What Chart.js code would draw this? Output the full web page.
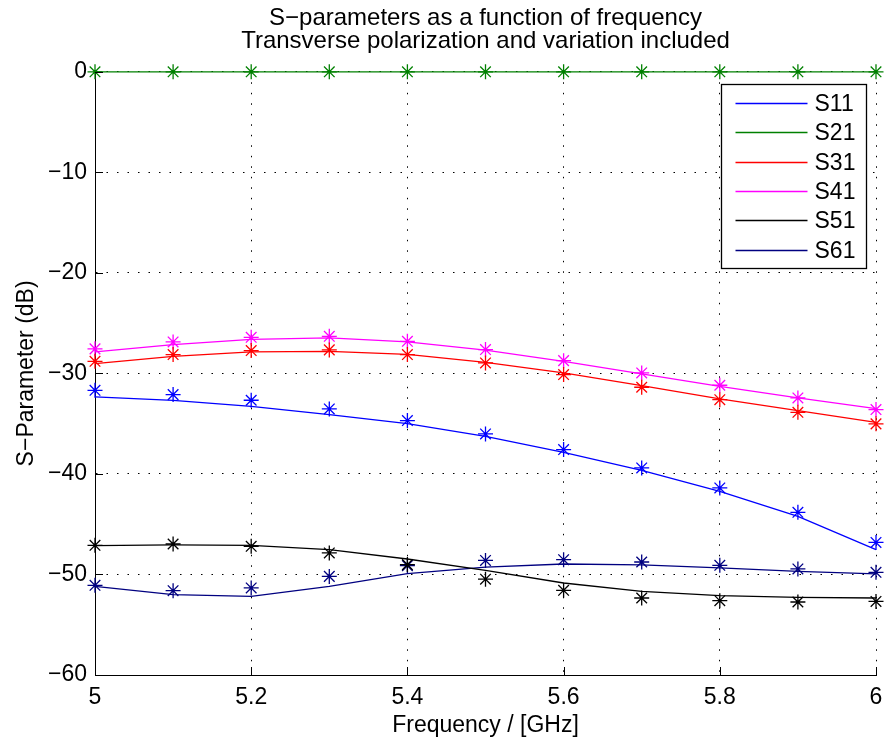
<!DOCTYPE html>
<html>
<head>
<meta charset="utf-8">
<title>S-parameters as a function of frequency</title>
<script src="https://cdn.jsdelivr.net/npm/chart.js@4.4.1/dist/chart.umd.min.js"></script>
<style>
    html, body { margin: 0; padding: 0; background: #fff; }
    #wrap { position: relative; width: 885px; height: 742px; }
</style>
</head>
<body>
<div id="wrap"><canvas id="chart1"></canvas></div>
<script>
const freq = [5.0, 5.1, 5.2, 5.3, 5.4, 5.5, 5.6, 5.7, 5.8, 5.9, 6.0];
const xTicks = [5, 5.2, 5.4, 5.6, 5.8, 6];
const yTicks = [-60, -50, -40, -30, -20, -10, 0];
const names = ['S11', 'S21', 'S31', 'S41', 'S51', 'S61'];

// fitted curves (solid lines)
const s11Line = [-32.34, -32.68, -33.27, -34.10, -35.00, -36.26, -37.85, -39.64, -41.73, -44.22, -47.53];
const s21Line = [0, 0, 0, 0, 0, 0, 0, 0, 0, 0, 0];
const s31Line = [-29.02, -28.30, -27.86, -27.80, -28.10, -28.90, -29.95, -31.21, -32.54, -33.70, -34.87];
const s41Line = [-27.86, -27.13, -26.61, -26.47, -26.87, -27.68, -28.80, -30.05, -31.28, -32.44, -33.50];
const s51Line = [-47.13, -47.06, -47.10, -47.53, -48.46, -49.60, -50.85, -51.68, -52.11, -52.28, -52.34];
const s61Line = [-51.18, -52.01, -52.18, -51.18, -49.92, -49.27, -48.96, -49.05, -49.35, -49.69, -49.95];

// sample points (asterisks)
const s11Pts = [-31.68, -32.11, -32.67, -33.53, -34.69, -36.02, -37.58, -39.40, -41.39, -43.82, -46.81];
const s21Pts = [0, 0, 0, 0, 0, 0, 0, 0, 0, 0, 0];
const s31Pts = [-28.80, -28.13, -27.73, -27.66, -28.13, -28.96, -30.12, -31.38, -32.61, -33.87, -35.02];
const s41Pts = [-27.56, -26.87, -26.41, -26.31, -26.81, -27.63, -28.73, -29.95, -31.18, -32.44, -33.60];
const s51Pts = [-47.10, -46.97, -47.20, -47.86, -49.02, -50.47, -51.58, -52.34, -52.61, -52.74, -52.68];
const s61Pts = [-51.08, -51.61, -51.34, -50.19, -49.12, -48.60, -48.53, -48.76, -49.09, -49.45, -49.79];

const lineVals = [s11Line, s21Line, s31Line, s41Line, s51Line, s61Line];
const ptVals = [s11Pts, s21Pts, s31Pts, s41Pts, s51Pts, s61Pts];
const colors = ['#0000ff', '#008000', '#ff0000', '#ff00ff', '#000000', '#000080'];

const FONT = "'Liberation Sans', Arial, Helvetica, sans-serif";
Chart.defaults.font.family = FONT;
Chart.defaults.font.size = 23;
Chart.defaults.color = '#000';

function fmt(v) {
    if (v < 0) return '\u2212' + Math.abs(v);
    return String(+v.toFixed(1));
}

// matlab style ticks pointing into the axes
const innerTicks = {
    id: 'innerTicks',
    afterDatasetsDraw(chart) {
        const {ctx, chartArea, scales} = chart;
        ctx.save();
        ctx.strokeStyle = '#000';
        ctx.lineWidth = 1;
        ctx.beginPath();
        scales.y.ticks.forEach(t => {
            const y = Math.round(scales.y.getPixelForValue(t.value)) + 0.5;
            ctx.moveTo(chartArea.left, y);
            ctx.lineTo(chartArea.left + 8, y);
        });
        scales.x.ticks.forEach(t => {
            const x = Math.round(scales.x.getPixelForValue(t.value)) + 0.5;
            ctx.moveTo(x, chartArea.bottom);
            ctx.lineTo(x, chartArea.bottom - 8);
        });
        ctx.stroke();
        ctx.restore();
    }
};

// boxed legend in the top right corner
const boxLegend = {
    id: 'boxLegend',
    afterDraw(chart) {
        const {ctx, chartArea} = chart;
        const w = 145, h = 184, rowH = 29.3;
        const left = Math.round(chartArea.right - 10 - w) + 0.5;
        const top = Math.round(chartArea.top + 12) + 0.5;
        ctx.save();
        ctx.fillStyle = '#fff';
        ctx.fillRect(left, top, w, h);
        ctx.strokeStyle = '#000';
        ctx.lineWidth = 1.3;
        ctx.strokeRect(left, top, w, h);
        ctx.font = '23px ' + FONT;
        ctx.textBaseline = 'middle';
        ctx.textAlign = 'left';
        names.forEach((name, i) => {
            const y = Math.round(top + 18.5 + i * rowH) + 0.5;
            ctx.strokeStyle = colors[i];
            ctx.lineWidth = 1.3;
            ctx.beginPath();
            ctx.moveTo(left + 14, y);
            ctx.lineTo(left + 86, y);
            ctx.stroke();
            ctx.fillStyle = '#000';
            ctx.fillText(name, left + 93, y + 1);
        });
        ctx.restore();
    }
};

const datasets = [];
names.forEach((name, i) => {
    datasets.push({
        label: name,
        data: freq.map((f, j) => ({x: f, y: lineVals[i][j]})),
        showLine: true,
        borderColor: colors[i],
        backgroundColor: colors[i],
        borderWidth: 1.3,
        pointRadius: 0,
        tension: 0,
        clip: false
    });
    datasets.push({
        label: name + ' samples',
        data: freq.map((f, j) => ({x: f, y: ptVals[i][j]})),
        showLine: false,
        pointStyle: 'star',
        pointRadius: 7.5,
        borderWidth: 1.3,
        borderColor: colors[i],
        backgroundColor: colors[i],
        clip: false
    });
});

let chart1 = null;

document.addEventListener('DOMContentLoaded', function() {
    const ctx1 = document.getElementById('chart1');
    chart1 = new Chart(ctx1, {
        type: 'scatter',
        data: {datasets: datasets},
        plugins: [innerTicks, boxLegend],
        options: {
            responsive: true,
            maintainAspectRatio: false,
            animation: false,
            events: [],
            layout: {padding: {left: 0, right: 9, top: 0, bottom: 0}},
            plugins: {
                legend: {display: false},
                tooltip: {enabled: false},
                title: {
                    display: true,
                    fullSize: false,
                    text: ['S\u2212parameters as a function of frequency', 'Transverse polarization and variation included'],
                    color: '#000',
                    font: {size: 24, weight: 'normal', lineHeight: 0.95},
                    padding: {top: 7, bottom: 19.2}
                }
            },
            scales: {
                x: {
                    type: 'linear',
                    min: 5,
                    max: 6,
                    afterBuildTicks: s => { s.ticks = xTicks.map(v => ({value: v})); },
                    afterFit: s => { s.height = 67; s.paddingLeft = 0; s.paddingRight = 0; },
                    ticks: {padding: 9, maxRotation: 0, callback: v => fmt(v)},
                    grid: {color: '#000', lineWidth: 1, drawTicks: false},
                    border: {display: true, color: '#000', width: 1, dash: [1.5, 9]},
                    title: {display: true, text: 'Frequency / [GHz]', padding: {top: 0, bottom: 3}}
                },
                y: {
                    type: 'linear',
                    min: -60,
                    max: 0,
                    afterBuildTicks: s => { s.ticks = yTicks.map(v => ({value: v})); },
                    afterFit: s => { s.width = 95; },
                    ticks: {padding: 8, callback: v => fmt(v)},
                    grid: {color: '#000', lineWidth: 1, drawTicks: false},
                    border: {display: true, color: '#000', width: 1, dash: [1.5, 9]},
                    title: {display: true, text: 'S\u2212Parameter (dB)', padding: {top: 13, bottom: 0}}
                }
            }
        }
    });
});
</script>
</body>
</html>
